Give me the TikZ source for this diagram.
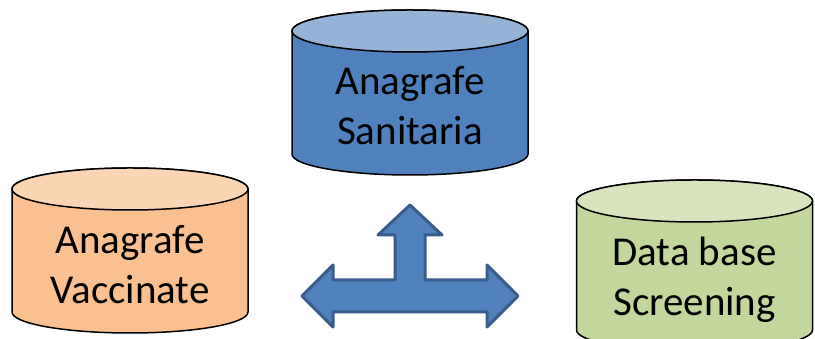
\documentclass[tikz,border=0pt]{standalone}
\usepackage{fontspec}
\setmainfont{Carlito}
\usetikzlibrary{positioning}

\definecolor{blueend}{HTML}{95B3D7}
\definecolor{bluebody}{HTML}{4F81BD}
\definecolor{blueline}{HTML}{385D8A}
\definecolor{orangeend}{HTML}{FCD5B5}
\definecolor{orangebody}{HTML}{FAC090}
\definecolor{greenend}{HTML}{D7E4BD}
\definecolor{greenbody}{HTML}{C3D69B}

\begin{document}
\begin{tikzpicture}[x=1pt, y=1pt]
    \tikzstyle{database}   = [draw=black, line width=1.5pt, line join=round]
    \tikzstyle{dbtext}     = [align=center, font=\fontsize{41}{50}\selectfont, inner sep=0pt]
    \tikzstyle{multiarrow} = [fill=bluebody, draw=blueline, line width=3pt, line join=round]

    \useasboundingbox (0,0) rectangle (815,339);
    \clip (0,0) rectangle (815,339);

    % Databases
    \foreach \cx/\ctop/\cbot/\body/\cend in {410/308/185/bluebody/blueend,
                                              130/150/27/orangebody/orangeend,
                                              694.5/138/9/greenbody/greenend} {
        \draw [database, fill=\body] (\cx-118,\ctop) -- (\cx-118,\cbot)
            arc [start angle=180, end angle=360, x radius=118, y radius=21]
            -- (\cx+118,\ctop) arc [start angle=0, end angle=180, x radius=118, y radius=21] -- cycle;
        \draw [database, fill=\cend] (\cx,\ctop) ellipse [x radius=118, y radius=21];
    }

    % Labels
    \node [dbtext] (sanitaria) at (410,233.5)  {Anagrafe\\Sanitaria};
    \node [dbtext] (vaccinate) at (130,74.5)   {Anagrafe\\Vaccinate};
    \node [dbtext] (screening) at (694.5,59.5) {Data base\\Screening};

    % Arrow
    \draw [multiarrow] (410,134) -- (442,104) -- (425,104) -- (425,59) -- (487,59) -- (487,74)
        -- (518,43) -- (487,12) -- (487,27) -- (333,27) -- (333,12) -- (302,43) -- (333,74)
        -- (333,59) -- (395,59) -- (395,104) -- (378,104) -- cycle;

\end{tikzpicture}
\end{document}
